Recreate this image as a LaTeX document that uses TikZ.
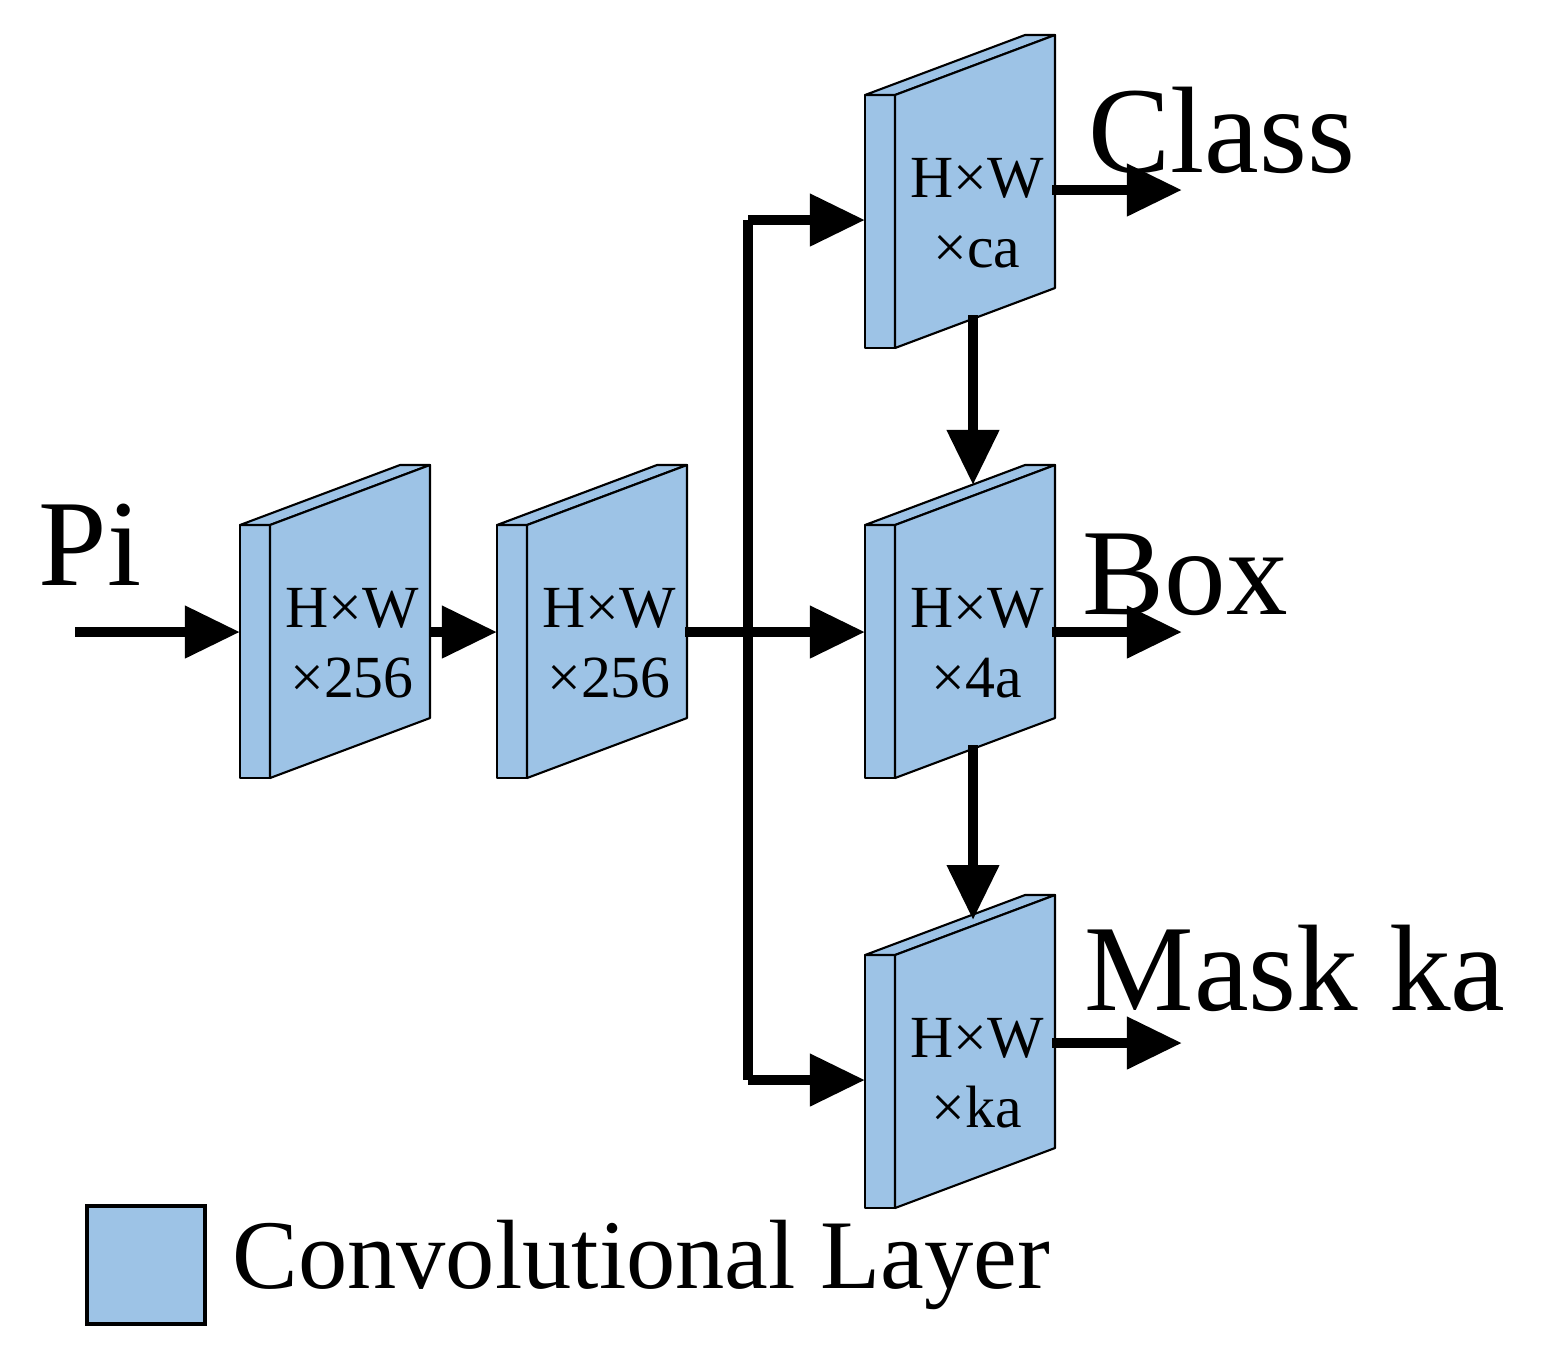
\documentclass[tikz,border=0pt]{standalone}
\usepackage{fontspec}
\setmainfont{Liberation Serif}
\usetikzlibrary{arrows.meta}
\definecolor{conv}{HTML}{9DC3E6}
\begin{document}
\begin{tikzpicture}[x={(0.01cm,0)},y={(0,-0.01cm)},
  slab/.style={fill=conv,draw=black,line width=0.6pt,line join=round},
  arr/.style={line width=3pt,-{Triangle[length=0.55cm,width=0.5cm]}},
  lbl/.style={font=\fontsize{17}{20}\selectfont,align=center},
  big/.style={font=\fontsize{35}{40}\selectfont}]
\useasboundingbox (0,0) rectangle (1552,1359);
\newcommand{\slabat}[4]{% name, left x, top y, text
  \draw[slab] (#2,#3) -- ++(30,0) -- ++(0,253) -- ++(-30,0) -- cycle;
  \draw[slab] (#2,#3) -- ++(160,-60) -- ++(30,0) -- ++(-160,60) -- cycle;
  \draw[slab] (#2+30,#3) -- ++(160,-60) -- ++(0,253) -- ++(-160,60) -- cycle;
  \node[lbl] (#1) at (#2+112,#3+118) {#4};
  \coordinate (#1-l) at (#2,#3+107);
  \coordinate (#1-r) at (#2+188,#3+107);
}
\slabat{b1}{240}{525}{H×W\\×256}
\slabat{b2}{497}{525}{H×W\\×256}
\slabat{cls}{865}{95}{H×W\\×ca}
\slabat{box}{865}{525}{H×W\\×4a}
\slabat{msk}{865}{955}{H×W\\×ka}
\coordinate (pin) at (75,632);
\node[big] (pi) at (90,545) {Pi};
\draw[arr] (pin) -- (240,632);
\draw[arr] (430,632) -- (497,632);
\coordinate (br) at (748,632);
\coordinate (bt) at (748,220);
\coordinate (bb) at (748,1080);
\draw[line width=3pt] (685,632) -- (br);
\draw[arr] (br) -- (865,632);
\draw[line width=3pt,line join=round] (bt) -- (bb);
\draw[arr,line join=round] (748,1080) -- (865,1080);
\draw[arr] (748,220) -- (865,220);
\draw[arr] (973,315) -- (973,485);
\draw[arr] (973,745) -- (973,920);
\draw[arr] (1052,190) -- (1182,190);
\draw[arr] (1052,632) -- (1182,632);
\draw[arr] (1052,1043) -- (1182,1043);
\node[big] (c) at (1222,130) {Class};
\node[big] (bx) at (1185,575) {Box};
\node[big] (m) at (1295,968) {Mask ka};
\node[fill=conv,draw=black,line width=1pt,minimum size=1.18cm,inner sep=0] (leg) at (146,1265) {};
\node[anchor=west,font=\fontsize{28}{32}\selectfont] (legt) at (220,1265) {Convolutional Layer};
\end{tikzpicture}
\end{document}
